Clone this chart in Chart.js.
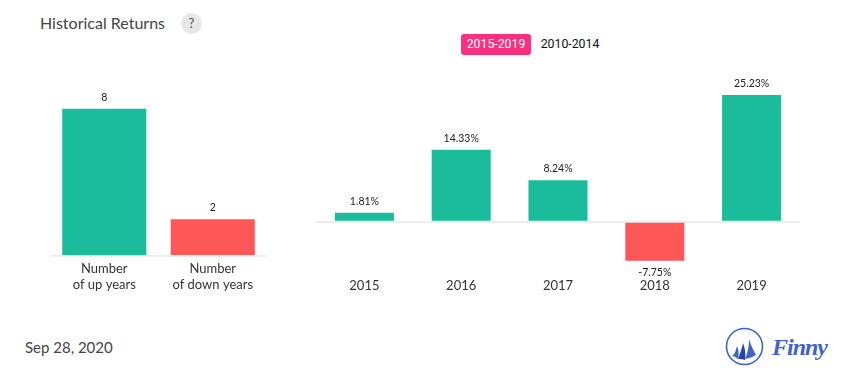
<!DOCTYPE html>
<html>
<head>
<meta charset="utf-8">
<title>Historical Returns</title>
<script src="https://cdn.jsdelivr.net/npm/chart.js@4/dist/chart.umd.min.js"></script>
<style>
  html, body { margin: 0; padding: 0; background: #fff; }
  body { width: 855px; height: 382px; position: relative; overflow: hidden; font-family: Lato, sans-serif; }
  .box { position: absolute; }
  .box canvas { display: block; }
  #title { position: absolute; left: 40px; top: 13px; font-size: 16px; line-height: 20px; color: #444; }
  #help { position: absolute; left: 181px; top: 13px; width: 21px; height: 21px; border-radius: 50%; background: #e8e8e8; color: #555; font-size: 13px; line-height: 21px; text-align: center; }
  .tab { position: absolute; top: 34px; height: 21px; line-height: 21px; font-family: Roboto, sans-serif; font-size: 12.3px; text-align: center; }
  #tabOn { left: 461px; width: 70px; background: #f7317f; color: #fff; border-radius: 3px; }
  #tabOff { left: 531px; width: 78px; color: #111; }
  #date { position: absolute; left: 25px; top: 337px; font-size: 15px; line-height: 20px; color: #444; }
  #logo { position: absolute; left: 725px; top: 326px; }
  #logoText { position: absolute; left: 772px; top: 332px; font-family: "Liberation Serif", serif; font-style: italic; font-weight: bold; font-size: 24px; letter-spacing: -1px; line-height: 30px; color: #3f63c8; }
</style>
</head>
<body>
<div id="title">Historical Returns</div>
<div id="help">?</div>
<div class="tab" id="tabOn">2015-2019</div>
<div class="tab" id="tabOff">2010-2014</div>

<div class="box" style="left:50px;top:72px;width:217px;height:229px"><canvas id="countChart"></canvas></div>
<div class="box" style="left:316px;top:71px;width:484px;height:231px"><canvas id="returnChart"></canvas></div>

<div id="date">Sep 28, 2020</div>
<svg id="logo" width="40" height="40" viewBox="0 0 40 40">
  <circle cx="19.5" cy="20.5" r="18" fill="none" stroke="#3f63c8" stroke-width="1.6"/>
  <path d="M7 30 C10 28 11 24 12 20 C14 24 14 29 13 33 C11 31 9 30 7 30 Z" fill="#3f63c8"/>
  <path d="M13 33 C15 28 17 22 18 17 C20 22 21 28 20 34 C18 33 15 33 13 33 Z" fill="#2346a8"/>
  <path d="M20 33 C23 26 24 20 24 13 C26 20 29 25 31 29 C28 31 24 32 20 33 Z" fill="#3f63c8"/>
</svg>
<div id="logoText">Finny</div>

<script>
const countLabels = [["Number", "of up years"], ["Number", "of down years"]];
const countValues = [8, 2];
const countColors = ["#1abc9c", "#ff5757"];
const years = ["2015", "2016", "2017", "2018", "2019"];
const returns = [1.81, 14.33, 8.24, -7.75, 25.23];
const returnColors = ["#1abc9c", "#1abc9c", "#1abc9c", "#ff5757", "#1abc9c"];

Chart.defaults.animation = false;
Chart.defaults.font.family = "Lato, sans-serif";

// value labels over (or under) each bar
const barLabels = {
  id: "barLabels",
  afterDatasetsDraw(chart, args, opts) {
    const ctx = chart.ctx;
    const data = chart.data.datasets[0].data;
    ctx.save();
    ctx.font = "10.5px Lato, sans-serif";
    ctx.fillStyle = "#222";
    ctx.textAlign = "center";
    chart.getDatasetMeta(0).data.forEach((bar, i) => {
      const v = data[i];
      if (v < 0) {
        ctx.textBaseline = "top";
        ctx.fillText(opts.format(v), bar.x, bar.y + 7);
      } else {
        ctx.textBaseline = "bottom";
        ctx.fillText(opts.format(v), bar.x, bar.y - opts.gap);
      }
    });
    ctx.restore();
  },
};

function makeChart(id, labels, values, colors, opts) {
  return new Chart(document.getElementById(id), {
    type: "bar",
    data: {
      labels: labels,
      datasets: [
        {
          data: values,
          backgroundColor: colors,
          barPercentage: opts.barPercentage,
          categoryPercentage: 1,
          borderWidth: 0,
        },
      ],
    },
    options: {
      responsive: true,
      maintainAspectRatio: false,
      layout: { padding: 0 },
      plugins: {
        legend: { display: false },
        tooltip: { enabled: false },
        barLabels: { format: opts.format, gap: opts.gap },
      },
      scales: {
        x: {
          grid: { display: false },
          border: { display: false },
          ticks: {
            color: "#333",
            font: { size: 13, lineHeight: 1.23 },
            padding: opts.tickPadding,
            maxRotation: 0,
            autoSkip: false,
          },
          afterFit: (scale) => {
            scale.height = opts.axisHeight;
          },
        },
        y: {
          display: true,
          min: opts.min,
          max: opts.max,
          ticks: { display: false, stepSize: 10 },
          border: { display: false },
          grid: {
            drawTicks: false,
            lineWidth: 2,
            color: (c) => (c.tick.value === 0 ? "#eeeeee" : "transparent"),
          },
          afterFit: (scale) => {
            scale.width = 0;
          },
        },
      },
    },
    plugins: [barLabels],
  });
}

makeChart("countChart", countLabels, countValues, countColors, {
  min: 0,
  max: 10,
  barPercentage: 0.775,
  tickPadding: -3,
  axisHeight: 45,
  gap: 6,
  format: (v) => String(v),
});

makeChart("returnChart", years, returns, returnColors, {
  min: -10,
  max: 30,
  barPercentage: 0.61,
  tickPadding: -2,
  axisHeight: 30,
  gap: 6,
  format: (v) => v + "%",
});
</script>
</body>
</html>
